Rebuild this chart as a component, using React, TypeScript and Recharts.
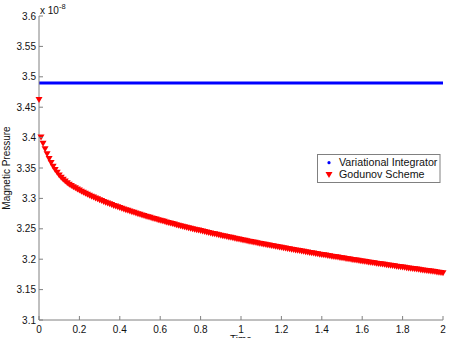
import React from 'react';
import { ComposedChart, Line, XAxis, YAxis } from 'recharts';

const times = [
  0, 0.01, 0.02, 0.03, 0.04, 0.05, 0.06, 0.07, 0.08, 0.09,
  0.1, 0.11, 0.12, 0.13, 0.14, 0.15, 0.16, 0.17, 0.18, 0.19,
  0.2, 0.21, 0.22, 0.23, 0.24, 0.25, 0.26, 0.27, 0.28, 0.29,
  0.3, 0.31, 0.32, 0.33, 0.34, 0.35, 0.36, 0.37, 0.38, 0.39,
  0.4, 0.41, 0.42, 0.43, 0.44, 0.45, 0.46, 0.47, 0.48, 0.49,
  0.5, 0.51, 0.52, 0.53, 0.54, 0.55, 0.56, 0.57, 0.58, 0.59,
  0.6, 0.61, 0.62, 0.63, 0.64, 0.65, 0.66, 0.67, 0.68, 0.69,
  0.7, 0.71, 0.72, 0.73, 0.74, 0.75, 0.76, 0.77, 0.78, 0.79,
  0.8, 0.81, 0.82, 0.83, 0.84, 0.85, 0.86, 0.87, 0.88, 0.89,
  0.9, 0.91, 0.92, 0.93, 0.94, 0.95, 0.96, 0.97, 0.98, 0.99,
  1.0, 1.01, 1.02, 1.03, 1.04, 1.05, 1.06, 1.07, 1.08, 1.09,
  1.1, 1.11, 1.12, 1.13, 1.14, 1.15, 1.16, 1.17, 1.18, 1.19,
  1.2, 1.21, 1.22, 1.23, 1.24, 1.25, 1.26, 1.27, 1.28, 1.29,
  1.3, 1.31, 1.32, 1.33, 1.34, 1.35, 1.36, 1.37, 1.38, 1.39,
  1.4, 1.41, 1.42, 1.43, 1.44, 1.45, 1.46, 1.47, 1.48, 1.49,
  1.5, 1.51, 1.52, 1.53, 1.54, 1.55, 1.56, 1.57, 1.58, 1.59,
  1.6, 1.61, 1.62, 1.63, 1.64, 1.65, 1.66, 1.67, 1.68, 1.69,
  1.7, 1.71, 1.72, 1.73, 1.74, 1.75, 1.76, 1.77, 1.78, 1.79,
  1.8, 1.81, 1.82, 1.83, 1.84, 1.85, 1.86, 1.87, 1.88, 1.89,
  1.9, 1.91, 1.92, 1.93, 1.94, 1.95, 1.96, 1.97, 1.98, 1.99,
  2.0,
];

const godunov = [
  3.462, 3.4, 3.39, 3.381, 3.3725, 3.365, 3.3582, 3.352, 3.3467, 3.342,
  3.3378, 3.334, 3.3306, 3.3276, 3.325, 3.3226, 3.3204, 3.3184, 3.3165, 3.3146,
  3.3128, 3.311, 3.3093, 3.3076, 3.306, 3.3044, 3.3028, 3.3013, 3.2998, 3.2984,
  3.297, 3.2956, 3.2942, 3.2929, 3.2915, 3.2902, 3.289, 3.2877, 3.2865, 3.2853,
  3.2841, 3.2829, 3.2817, 3.2806, 3.2795, 3.2784, 3.2773, 3.2762, 3.2751, 3.274,
  3.273, 3.272, 3.271, 3.27, 3.269, 3.268, 3.267, 3.266, 3.2651, 3.2641,
  3.2632, 3.2623, 3.2614, 3.2605, 3.2596, 3.2587, 3.2578, 3.2569, 3.256, 3.2552,
  3.2543, 3.2535, 3.2527, 3.2518, 3.251, 3.2502, 3.2494, 3.2486, 3.2478, 3.247,
  3.2462, 3.2454, 3.2447, 3.2439, 3.2431, 3.2424, 3.2416, 3.2409, 3.2401, 3.2394,
  3.2387, 3.2379, 3.2372, 3.2365, 3.2358, 3.2351, 3.2344, 3.2337, 3.233, 3.2323,
  3.2316, 3.2309, 3.2302, 3.2296, 3.2289, 3.2282, 3.2276, 3.2269, 3.2262, 3.2256,
  3.225, 3.2243, 3.2237, 3.223, 3.2224, 3.2218, 3.2211, 3.2205, 3.2199, 3.2193,
  3.2187, 3.2181, 3.2174, 3.2168, 3.2162, 3.2156, 3.215, 3.2145, 3.2139, 3.2133,
  3.2127, 3.2121, 3.2115, 3.2109, 3.2104, 3.2098, 3.2092, 3.2087, 3.2081, 3.2075,
  3.207, 3.2064, 3.2059, 3.2053, 3.2048, 3.2042, 3.2037, 3.2031, 3.2026, 3.202,
  3.2015, 3.201, 3.2004, 3.1999, 3.1994, 3.1988, 3.1983, 3.1978, 3.1973, 3.1968,
  3.1962, 3.1957, 3.1952, 3.1947, 3.1942, 3.1937, 3.1932, 3.1927, 3.1922, 3.1917,
  3.1912, 3.1907, 3.1902, 3.1897, 3.1892, 3.1887, 3.1882, 3.1877, 3.1872, 3.1868,
  3.1863, 3.1858, 3.1853, 3.1849, 3.1844, 3.1839, 3.1834, 3.183, 3.1825, 3.182,
  3.1816, 3.1811, 3.1806, 3.1802, 3.1797, 3.1792, 3.1788, 3.1783, 3.1779, 3.1774,
  3.177,
];

const variational = [
  3.49, 3.49, 3.49, 3.49, 3.49, 3.49, 3.49, 3.49, 3.49, 3.49,
  3.49, 3.49, 3.49, 3.49, 3.49, 3.49, 3.49, 3.49, 3.49, 3.49,
  3.49, 3.49, 3.49, 3.49, 3.49, 3.49, 3.49, 3.49, 3.49, 3.49,
  3.49, 3.49, 3.49, 3.49, 3.49, 3.49, 3.49, 3.49, 3.49, 3.49,
  3.49, 3.49, 3.49, 3.49, 3.49, 3.49, 3.49, 3.49, 3.49, 3.49,
  3.49, 3.49, 3.49, 3.49, 3.49, 3.49, 3.49, 3.49, 3.49, 3.49,
  3.49, 3.49, 3.49, 3.49, 3.49, 3.49, 3.49, 3.49, 3.49, 3.49,
  3.49, 3.49, 3.49, 3.49, 3.49, 3.49, 3.49, 3.49, 3.49, 3.49,
  3.49, 3.49, 3.49, 3.49, 3.49, 3.49, 3.49, 3.49, 3.49, 3.49,
  3.49, 3.49, 3.49, 3.49, 3.49, 3.49, 3.49, 3.49, 3.49, 3.49,
  3.49, 3.49, 3.49, 3.49, 3.49, 3.49, 3.49, 3.49, 3.49, 3.49,
  3.49, 3.49, 3.49, 3.49, 3.49, 3.49, 3.49, 3.49, 3.49, 3.49,
  3.49, 3.49, 3.49, 3.49, 3.49, 3.49, 3.49, 3.49, 3.49, 3.49,
  3.49, 3.49, 3.49, 3.49, 3.49, 3.49, 3.49, 3.49, 3.49, 3.49,
  3.49, 3.49, 3.49, 3.49, 3.49, 3.49, 3.49, 3.49, 3.49, 3.49,
  3.49, 3.49, 3.49, 3.49, 3.49, 3.49, 3.49, 3.49, 3.49, 3.49,
  3.49, 3.49, 3.49, 3.49, 3.49, 3.49, 3.49, 3.49, 3.49, 3.49,
  3.49, 3.49, 3.49, 3.49, 3.49, 3.49, 3.49, 3.49, 3.49, 3.49,
  3.49, 3.49, 3.49, 3.49, 3.49, 3.49, 3.49, 3.49, 3.49, 3.49,
  3.49, 3.49, 3.49, 3.49, 3.49, 3.49, 3.49, 3.49, 3.49, 3.49,
  3.49,
];

const xTicks = [0, 0.2, 0.4, 0.6, 0.8, 1, 1.2, 1.4, 1.6, 1.8, 2];
const yTicks = [3.1, 3.15, 3.2, 3.25, 3.3, 3.35, 3.4, 3.45, 3.5, 3.55, 3.6];

const seriesNames = ['Variational Integrator', 'Godunov Scheme'];
const yLabel = 'Magnetic Pressure';
const xLabel = 'Time';

const data = times.map((t, i) => ({ t, vi: variational[i], gs: godunov[i] }));

const FONT = '"Liberation Sans", Arial, Helvetica, sans-serif';
const AXIS = '#808080';
const TXT = '#111';

const YTick = (props: any) => {
  const { x, y, payload } = props;
  return (
    <g>
      <line x1={x} x2={x + 4} y1={y} y2={y} stroke={AXIS} />
      <text x={x - 3} y={y + 3.6} textAnchor="end" fontSize={10} fontFamily={FONT} fill={TXT}>
        {String(payload.value)}
      </text>
    </g>
  );
};

const XTick = (props: any) => {
  const { x, y, payload } = props;
  return (
    <g>
      <line x1={x} x2={x} y1={y} y2={y - 4} stroke={AXIS} />
      <text x={x} y={y + 13} textAnchor="middle" fontSize={10} fontFamily={FONT} fill={TXT}>
        {String(payload.value)}
      </text>
    </g>
  );
};

const Tri = (props: any) => {
  const { cx, cy, index } = props;
  if (cx == null || cy == null) return <g key={`t${index}`} />;
  return (
    <path
      key={`t${index}`}
      d={`M${cx - 3.5},${cy - 3}L${cx + 3.5},${cy - 3}L${cx},${cy + 3}Z`}
      fill="#ff0000"
      stroke="none"
    />
  );
};

export default function App() {
  return (
    <div style={{ position: 'absolute', left: 0, top: 0, width: 450, height: 338, background: '#fff' }}>
      <ComposedChart
        width={450}
        height={338}
        data={data}
        margin={{ top: 16, right: 7, bottom: 0, left: 0 }}
      >
        <XAxis
          dataKey="t"
          type="number"
          domain={[0, 2]}
          ticks={xTicks}
          height={18}
          tickSize={0}
          tickMargin={0}
          tickLine={false}
          tick={<XTick />}
          axisLine={{ stroke: AXIS }}
          interval={0}
        />
        <YAxis
          type="number"
          domain={[3.1, 3.6]}
          ticks={yTicks}
          width={39}
          tickSize={0}
          tickMargin={0}
          tickLine={false}
          tick={<YTick />}
          axisLine={{ stroke: AXIS }}
          interval={0}
        />
        <Line
          dataKey="vi"
          name={seriesNames[0]}
          stroke="#0000ff"
          strokeWidth={3}
          dot={false}
          activeDot={false}
          isAnimationActive={false}
        />
        <Line
          dataKey="gs"
          name={seriesNames[1]}
          stroke="none"
          dot={Tri}
          activeDot={false}
          isAnimationActive={false}
        />
      </ComposedChart>
      <svg
        width={450}
        height={338}
        style={{ position: 'absolute', left: 0, top: 0, pointerEvents: 'none' }}
      >
        <text x={40} y={14} fontSize={10} fontFamily={FONT} fill={TXT}>
          x 10
          <tspan dy={-5} fontSize={7.5}>-8</tspan>
        </text>
        <text
          x={9.5}
          y={168}
          transform="rotate(-90 9.5 168)"
          textAnchor="middle"
          fontSize={10}
          fontFamily={FONT}
          fill={TXT}
        >
          {yLabel}
        </text>
        <text x={241} y={342.5} textAnchor="middle" fontSize={10} fontFamily={FONT} fill={TXT}>
          {xLabel}
        </text>
        <rect x={317.5} y={154.5} width={122.5} height={28} fill="#fff" stroke={AXIS} />
        <circle cx={329} cy={162.7} r={1.6} fill="#0000ff" />
        <text x={339} y={166} fontSize={10.7} fontFamily={FONT} fill={TXT}>
          {seriesNames[0]}
        </text>
        <path d="M325.5,172L332.5,172L329,178Z" fill="#ff0000" />
        <text x={339} y={177.6} fontSize={10.7} fontFamily={FONT} fill={TXT}>
          {seriesNames[1]}
        </text>
      </svg>
    </div>
  );
}
